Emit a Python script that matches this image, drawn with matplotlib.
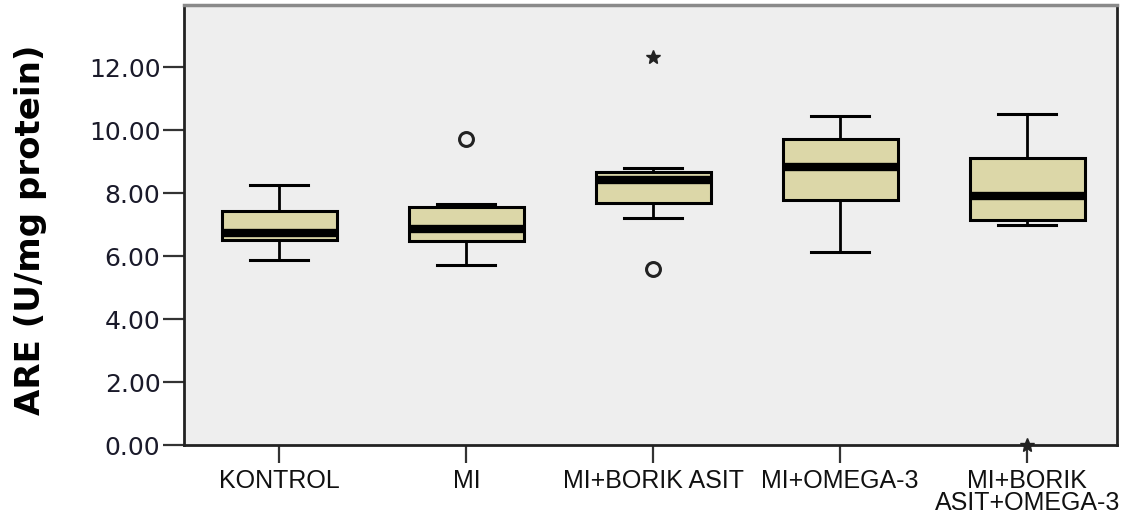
import matplotlib
matplotlib.use("Agg")
import matplotlib.pyplot as plt
from matplotlib import font_manager

groups = ["KONTROL", "MI", "MI+BORIK ASIT", "MI+OMEGA-3", "MI+BORIK\nASIT+OMEGA-3"]
whisker_low = [5.88, 5.73, 7.22, 6.14, 7.00]
q1 = [6.52, 6.49, 7.70, 7.80, 7.16]
median = [6.75, 6.87, 8.43, 8.85, 7.92]
q3 = [7.45, 7.57, 8.69, 9.74, 9.13]
whisker_high = [8.27, 7.67, 8.82, 10.47, 10.53]
outliers = [[], [9.74], [5.60], [], []]
extremes = [[], [], [12.32], [], [0.0]]

yticks = [0, 2, 4, 6, 8, 10, 12]

box_fill = "#DCD7A8"
bg = "#EEEEEE"

names = {f.name for f in font_manager.fontManager.ttflist}
narrow = "Liberation Sans Narrow" if "Liberation Sans Narrow" in names else "Liberation Sans"

fig = plt.figure(figsize=(11.38, 5.16), dpi=100)
ax = fig.add_axes([0.1617, 0.1375, 0.8198, 0.8525])
ax.set_facecolor(bg)

stats = []
for i, g in enumerate(groups):
    stats.append(dict(label=g, whislo=whisker_low[i], q1=q1[i], med=median[i],
                      q3=q3[i], whishi=whisker_high[i], fliers=outliers[i]))

pos = list(range(1, len(groups) + 1))
ax.bxp(stats, positions=pos, widths=0.615, patch_artist=True, showfliers=True,
       boxprops=dict(facecolor=box_fill, edgecolor="black", linewidth=2.2),
       medianprops=dict(color="black", linewidth=6, solid_capstyle="butt"),
       whiskerprops=dict(color="black", linewidth=2.0),
       capprops=dict(color="black", linewidth=2.2),
       capwidths=0.31,
       flierprops=dict(marker="o", markersize=10, markerfacecolor="none",
                       markeredgecolor="#222222", markeredgewidth=2.2))

for p, vals in zip(pos, extremes):
    if vals:
        ax.plot([p] * len(vals), vals, linestyle="none", marker="*", markersize=10,
                color="#222222", clip_on=False, zorder=5)

ax.set_xlim(0.49, 5.48)
ax.set_ylim(0, 13.98)
ax.set_yticks(yticks)
ax.set_yticklabels([f"{v:.2f}" for v in yticks], fontsize=18, color="#1a1a2a",
                   fontfamily="DejaVu Sans")
ax.set_xticks(pos)
ax.set_xticklabels(groups, fontsize=18, fontfamily=narrow, color="#111111",
                   linespacing=0.92)
ax.tick_params(axis="y", length=15, width=1.6, color="#333333", pad=2)
ax.tick_params(axis="x", length=13, width=1.6, color="#333333", pad=4)

for side in ["left", "bottom", "right"]:
    ax.spines[side].set_color("#222222")
    ax.spines[side].set_linewidth(2.0)
ax.spines["top"].set_color("#8a8a8a")
ax.spines["top"].set_linewidth(2.5)

ax.set_ylabel("ARE (U/mg protein)", fontsize=24.5, fontweight="bold",
              fontfamily="DejaVu Sans")
ax.yaxis.set_label_coords(-0.147, 0.49)

fig.savefig("out.png", dpi=100)
